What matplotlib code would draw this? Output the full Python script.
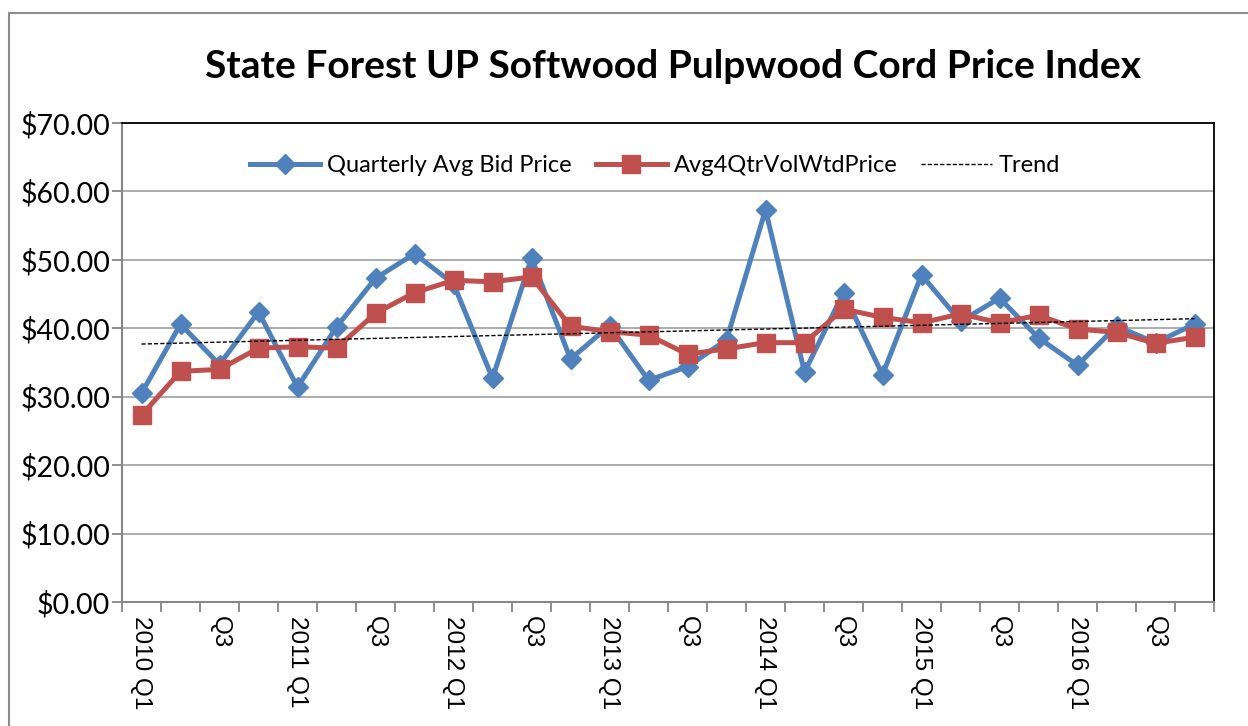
import matplotlib.pyplot as plt
from matplotlib.patches import Rectangle
import numpy as np

plt.rcParams['font.family'] = ['Lato', 'DejaVu Sans']

# Quarterly labels, one every other quarter is shown
quarters = ["2010 Q1", "", "Q3", "", "2011 Q1", "", "Q3", "",
            "2012 Q1", "", "Q3", "", "2013 Q1", "", "Q3", "",
            "2014 Q1", "", "Q3", "", "2015 Q1", "", "Q3", "",
            "2016 Q1", "", "Q3", ""]

bid_price = [30.5, 40.6, 34.7, 42.4, 31.4, 40.2, 47.3, 50.9,
             46.5, 32.7, 50.3, 35.5, 40.4, 32.4, 34.4, 38.3,
             57.3, 33.6, 45.2, 33.2, 47.8, 41.0, 44.4, 38.6,
             34.6, 40.3, 37.9, 40.6]

vol_wtd_price = [27.3, 33.7, 34.0, 37.1, 37.3, 37.1, 42.2, 45.2,
                 47.0, 46.8, 47.5, 40.3, 39.5, 39.0, 36.2, 37.0,
                 37.9, 37.9, 42.8, 41.6, 40.8, 42.1, 40.8, 41.9,
                 39.9, 39.4, 37.8, 38.7]

# trend line end values (first and last quarter)
trend_ends = [37.7, 41.4]

blue = "#4F81BD"
red = "#C0504D"
gray = "#868686"

fig = plt.figure(figsize=(12.48, 7.26), dpi=100)
# outer chart border (runs off the right and bottom edge)
fig.patches.append(Rectangle((9 / 1248, -0.1), 1.2, 1 - 13 / 726 + 0.1,
                             transform=fig.transFigure, fill=False,
                             edgecolor="#8C8C8C", linewidth=1.5))

ax = fig.add_axes([122 / 1248, 1 - 602 / 726, 1092 / 1248, 479 / 726])

x = np.arange(len(quarters))
ax.plot(x, bid_price, color=blue, linewidth=3.6, marker="D", markersize=10,
        label="Quarterly Avg Bid Price", zorder=3)
ax.plot(x, vol_wtd_price, color=red, linewidth=3.6, marker="s", markersize=13.5,
        label="Avg4QtrVolWtdPrice", zorder=4)
ax.plot([x[0], x[-1]], trend_ends, color="black", linewidth=1.0,
        linestyle=(0, (3, 1.5)), label="Trend", zorder=5)

ax.set_xlim(-0.5, len(quarters) - 0.5)
ax.set_ylim(0, 70)
ax.set_yticks(np.arange(0, 71, 10))
ax.set_yticklabels(["${:.2f}".format(v) for v in np.arange(0, 71, 10)])
ax.yaxis.grid(True, color="#A6A6A6", linewidth=1.3)
ax.set_axisbelow(True)

ax.set_xticks(np.arange(len(quarters) + 1) - 0.5)
ax.set_xticklabels([])
ax.set_xticks(x, minor=True)
ax.set_xticklabels(quarters, minor=True, rotation=-90, va="top")
for lbl in ax.get_xticklabels(minor=True):
    lbl.set_fontfamily(["Liberation Sans", "DejaVu Sans"])
    lbl.set_fontsize(17.5)
ax.tick_params(axis="x", which="minor", length=0, pad=10)
ax.tick_params(axis="x", which="major", length=7, color=gray, width=1.3)
ax.tick_params(axis="y", length=7, color=gray, width=1.3, pad=1.5, labelsize=20.5)

for s in ["left", "bottom"]:
    ax.spines[s].set_color(gray)
    ax.spines[s].set_linewidth(1.5)
for s in ["top", "right"]:
    ax.spines[s].set_color("black")
    ax.spines[s].set_linewidth(1.3)

ax.legend(loc="upper center", bbox_to_anchor=(0.488, 0.978), ncol=3,
          frameon=False, fontsize=17, handlelength=3.0, columnspacing=1.0,
          handletextpad=0.3)

fig.text(673 / 1248, 1 - 67 / 726, "State Forest UP Softwood Pulpwood Cord Price Index",
         ha="center", va="center", fontsize=28, fontweight="bold")

fig.savefig("out.png", dpi=100)
